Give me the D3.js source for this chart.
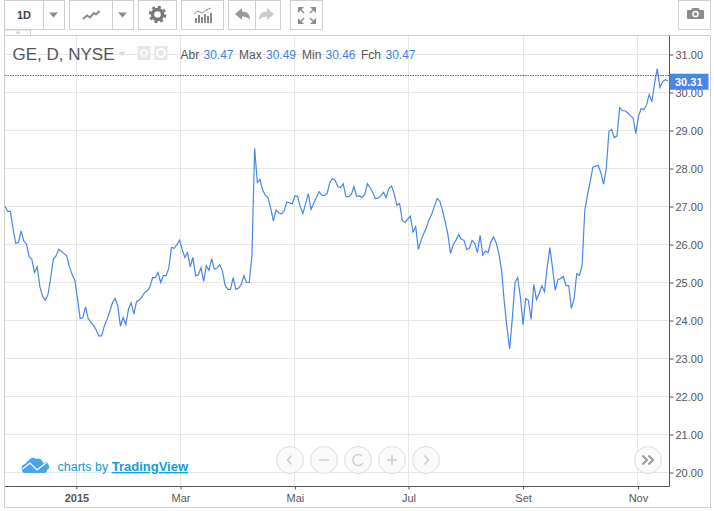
<!DOCTYPE html>
<html>
<head>
<meta charset="utf-8">
<style>
  html, body { margin: 0; padding: 0; background: #fff; }
  svg { display: block; font-family: "Liberation Sans", Arial, sans-serif; }
</style>
<script src="https://cdnjs.cloudflare.com/ajax/libs/d3/7.8.5/d3.min.js"></script>
</head>
<body>
<script>
'use strict';

// daily close, one value per bar
var closes = [
  27.01, 26.87, 26.87, 26.42, 26.03, 26.05, 26.36, 26.09, 26.01, 25.68,
  25.61, 25.26, 25.41, 24.89, 24.64, 24.53, 24.68, 25.11, 25.61, 25.70,
  25.87, 25.82, 25.76, 25.70, 25.41, 25.21, 25.06, 24.58, 24.05, 24.07,
  24.36, 24.05, 23.96, 23.87, 23.75, 23.59, 23.60, 23.85, 24.03, 24.23,
  24.46, 24.58, 24.39, 23.85, 24.08, 23.89, 24.30, 24.47, 24.17, 24.50,
  24.53, 24.62, 24.73, 24.78, 24.89, 25.13, 25.13, 25.26, 25.00, 25.18,
  25.18, 25.37, 25.92, 25.90, 25.99, 26.11, 25.87, 25.66, 25.79, 25.41,
  25.66, 25.18, 25.20, 25.39, 25.03, 25.44, 25.32, 25.63, 25.35, 25.38,
  25.47, 25.30, 24.93, 24.82, 24.82, 25.13, 24.82, 24.85, 24.95, 25.18,
  25.00, 25.00, 25.72, 28.53, 27.63, 27.71, 27.43, 27.30, 27.23, 26.95,
  26.62, 26.91, 26.83, 26.81, 26.89, 27.12, 27.10, 27.07, 27.28, 27.27,
  26.99, 26.82, 27.08, 27.34, 26.92, 27.08, 27.24, 27.39, 27.30, 27.29,
  27.34, 27.63, 27.73, 27.69, 27.52, 27.50, 27.60, 27.26, 27.26, 27.31,
  27.52, 27.27, 27.28, 27.24, 27.31, 27.60, 27.50, 27.37, 27.21, 27.22,
  27.28, 27.37, 27.24, 27.47, 27.54, 27.34, 27.03, 27.08, 26.64, 26.58,
  26.67, 26.75, 26.33, 26.47, 25.87, 26.11, 26.29, 26.44, 26.66, 26.80,
  27.01, 27.21, 27.14, 26.89, 26.60, 26.26, 25.76, 26.00, 26.11, 26.26,
  26.14, 26.11, 25.87, 25.90, 26.11, 26.03, 25.79, 26.24, 25.72, 25.83,
  25.79, 26.07, 26.20, 26.04, 25.76, 25.32, 24.49, 23.83, 23.25, 24.05,
  25.00, 25.13, 24.62, 23.89, 24.58, 24.53, 24.03, 24.95, 24.55, 24.71,
  24.92, 24.76, 25.41, 25.92, 25.37, 24.80, 25.08, 25.10, 25.16, 24.92,
  24.92, 24.32, 24.56, 25.23, 25.19, 25.45, 26.90, 27.30, 27.65, 28.03,
  28.07, 28.08, 27.89, 27.58, 28.00, 28.98, 29.03, 28.81, 28.86, 29.60,
  29.52, 29.52, 29.46, 29.39, 29.33, 28.92, 29.38, 29.57, 29.55, 29.67,
  29.95, 29.76, 30.24, 30.63, 30.13, 30.28, 30.34, 30.31
];

var priceTicks = [20, 21, 22, 23, 24, 25, 26, 27, 28, 29, 30, 31];
var monthLabels = ['2015', 'Mar', 'Mai', 'Jul', 'Set', 'Nov'];
var monthBars = [26.6, 65.4, 108, 150.3, 193, 235.8];
var legendNames = ['Abr', 'Max', 'Min', 'Fch'];
var legendValues = [30.47, 30.49, 30.46, 30.47];
var lastPrice = 30.31;
var dashedPrice = 30.45;

var chartWidth = 714,
  chartHeight = 511,
  plotLeft = 5,
  plotRight = 669.5,
  plotTop = 35.5,
  plotBottom = 486.5;

var grey = '#555',
  boxLine = '#cfcfcf',
  iconGrey = '#8a8a8a',
  blue = '#4a86e8';

var svg = d3.select('body').append('svg')
  .attr('width', chartWidth)
  .attr('height', chartHeight);

var x = d3.scaleLinear().domain([0, closes.length - 1]).range([5, 668]);
var y = d3.scaleLinear().domain([20, 31]).range([472.5, 54.5]);

// grid
svg.append('g').selectAll('line').data(priceTicks).enter().append('line')
  .attr('x1', plotLeft).attr('x2', plotRight)
  .attr('y1', function(d) { return Math.round(y(d) - 0.5) + 0.5; })
  .attr('y2', function(d) { return Math.round(y(d) - 0.5) + 0.5; })
  .attr('stroke', '#e6e6e6');

svg.append('g').selectAll('line').data(monthBars).enter().append('line')
  .attr('x1', function(d) { return Math.round(x(d) - 0.5) + 0.5; })
  .attr('x2', function(d) { return Math.round(x(d) - 0.5) + 0.5; })
  .attr('y1', plotTop).attr('y2', plotBottom)
  .attr('stroke', '#e6e6e6');

// price line
var priceLine = d3.line()
  .x(function(d, i) { return x(i); })
  .y(function(d) { return y(d); });

svg.append('path')
  .attr('d', priceLine(closes))
  .attr('fill', 'none')
  .attr('stroke', blue)
  .attr('stroke-width', 1.2);

// last price dashed line
svg.append('line')
  .attr('x1', plotLeft).attr('x2', plotRight)
  .attr('y1', Math.round(y(dashedPrice)) + 0.5)
  .attr('y2', Math.round(y(dashedPrice)) + 0.5)
  .attr('stroke', '#2f6fd0')
  .attr('stroke-dasharray', '1.5,1');

// axes
var rightAxis = d3.axisRight(y)
  .tickValues(priceTicks)
  .tickSize(4)
  .tickPadding(2)
  .tickFormat(d3.format('.2f'));

var rightG = svg.append('g')
  .attr('transform', 'translate(' + plotRight + ',0)')
  .call(rightAxis);

rightG.select('.domain').attr('d', 'M0,' + plotTop + 'V' + plotBottom).attr('stroke', grey);
rightG.selectAll('line').attr('stroke', grey);
rightG.selectAll('text')
  .attr('font-family', '"Liberation Sans", Arial, sans-serif')
  .attr('font-size', 11)
  .attr('fill', grey);

var bottomAxis = d3.axisBottom(x)
  .tickValues(monthBars)
  .tickSize(3)
  .tickPadding(5)
  .tickFormat(function(d, i) { return monthLabels[i]; });

var bottomG = svg.append('g')
  .attr('transform', 'translate(0,' + plotBottom + ')')
  .call(bottomAxis);

bottomG.select('.domain').attr('d', 'M' + plotLeft + ',0H' + plotRight).attr('stroke', grey);
bottomG.selectAll('line').attr('stroke', grey);
bottomG.selectAll('text')
  .attr('font-family', '"Liberation Sans", Arial, sans-serif')
  .attr('font-size', 11)
  .attr('font-weight', function(d, i) { return i === 0 ? 'bold' : 'normal'; })
  .attr('fill', grey);

// last price label
svg.append('rect')
  .attr('x', plotRight).attr('y', y(lastPrice) - 7)
  .attr('width', 39).attr('height', 16)
  .attr('fill', blue);

svg.append('text')
  .attr('x', 675).attr('y', y(lastPrice) + 5)
  .attr('font-size', 11).attr('font-weight', 'bold')
  .attr('fill', '#fff')
  .text(d3.format('.2f')(lastPrice));

// frame
svg.append('path')
  .attr('d', 'M4.5,30V507.5H710.5V35.5H4.5M4.5,30H30.5V35.5')
  .attr('fill', 'none')
  .attr('stroke', boxLine);

svg.append('path').attr('d', 'M15,33.5L18,31L21,33.5Z').attr('fill', '#ccc');

// title + legend
svg.append('text')
  .attr('x', 12.5).attr('y', 59.5)
  .attr('font-size', 17).attr('fill', grey)
  .text('GE, D, NYSE');

svg.append('path').attr('d', 'M118,52H126L122,56Z').attr('fill', '#ddd');

[137.5, 154.5].forEach(function(px, i) {
  svg.append('rect')
    .attr('x', px).attr('y', 46)
    .attr('width', 13).attr('height', 14)
    .attr('fill', '#e6e6e6');
  svg.append('circle')
    .attr('cx', px + 6.5).attr('cy', 53)
    .attr('r', i === 0 ? 3 : 4)
    .attr('fill', 'none')
    .attr('stroke', '#fff')
    .attr('stroke-width', i === 0 ? 1.4 : 2);
});

var legendNameX = [180.5, 239, 302, 361],
  legendValueX = [203.5, 266, 325.5, 385.5];

legendNames.forEach(function(name, i) {
  svg.append('text')
    .attr('x', legendNameX[i]).attr('y', 59)
    .attr('font-size', 12).attr('fill', grey)
    .text(name);
  svg.append('text')
    .attr('x', legendValueX[i]).attr('y', 59)
    .attr('font-size', 12).attr('fill', '#3d7fe6')
    .text(d3.format('.2f')(legendValues[i]));
});

// toolbar boxes
var boxes = [
  [4.5, 60], [69.5, 64], [138.5, 38], [181.5, 42], [228.5, 52], [290.5, 32], [678.5, 32]
];

boxes.forEach(function(b) {
  svg.append('rect')
    .attr('x', b[0]).attr('y', 0.5)
    .attr('width', b[1]).attr('height', 29)
    .attr('fill', '#fff')
    .attr('stroke', boxLine);
});

[43.5, 112.5, 255.5].forEach(function(px) {
  svg.append('line')
    .attr('x1', px).attr('x2', px)
    .attr('y1', 0.5).attr('y2', 29.5)
    .attr('stroke', boxLine);
});

svg.append('text')
  .attr('x', 24).attr('y', 18.5)
  .attr('text-anchor', 'middle')
  .attr('font-size', 11).attr('font-weight', 'bold')
  .attr('fill', '#444')
  .text('1D');

[[49, 12.5], [118, 12.5]].forEach(function(p) {
  svg.append('path')
    .attr('d', 'M' + p[0] + ',' + p[1] + 'h9l-4.5,5z')
    .attr('fill', iconGrey);
});

// line icon
svg.append('path')
  .attr('d', 'M83,19L87,15.5L90,17.5L94,13L96,14.5L99.5,11')
  .attr('fill', 'none').attr('stroke', iconGrey).attr('stroke-width', 2);

// gear icon
svg.append('circle')
  .attr('cx', 157.5).attr('cy', 14.5).attr('r', 5)
  .attr('fill', 'none').attr('stroke', '#777').attr('stroke-width', 3.4);
svg.append('circle')
  .attr('cx', 157.5).attr('cy', 14.5).attr('r', 7.6)
  .attr('fill', 'none').attr('stroke', '#777').attr('stroke-width', 2.4)
  .attr('stroke-dasharray', '3,3');

// indicators icon
[195, 198, 201, 204, 207, 210].forEach(function(px, i) {
  var h = [5, 8, 6, 9, 7, 10][i];
  svg.append('rect')
    .attr('x', px).attr('y', 23 - h)
    .attr('width', 2).attr('height', h)
    .attr('fill', iconGrey);
});
svg.append('path')
  .attr('d', 'M194,14L198,11L202,13L206,10L211,8')
  .attr('fill', 'none').attr('stroke', iconGrey);

// undo, redo
svg.append('path')
  .attr('d', 'M235,14L242,8V11.5C248,11.5 250,15 250,20C248,17 245,16.5 242,16.5V20Z')
  .attr('fill', '#999');
svg.append('path')
  .attr('d', 'M274,14L267,8V11.5C261,11.5 259,15 259,20C261,17 264,16.5 267,16.5V20Z')
  .attr('fill', '#ccc');

// fullscreen
['M298,7h6l-6,6z', 'M316,7h-6l6,6z', 'M298,24h6l-6,-6z', 'M316,24h-6l6,-6z'].forEach(function(d) {
  svg.append('path').attr('d', d).attr('fill', iconGrey);
});
svg.append('path')
  .attr('d', 'M301,10L304,13M313,10L310,13M301,21L304,18M313,21L310,18')
  .attr('stroke', iconGrey).attr('stroke-width', 1.5);

// camera
svg.append('path')
  .attr('d', 'M688,10h3l1.5,-2h6l1.5,2h3a1,1 0 0 1 1,1v7a1,1 0 0 1 -1,1h-15a1,1 0 0 1 -1,-1v-7a1,1 0 0 1 1,-1z')
  .attr('fill', iconGrey);
svg.append('circle')
  .attr('cx', 695.5).attr('cy', 14).attr('r', 2.6)
  .attr('fill', iconGrey).attr('stroke', '#fff').attr('stroke-width', 1.5);

// tradingview logo
svg.append('path')
  .attr('d', 'M22,470a4,4 0 0 1 3,-6l5,-5a4,4 0 0 1 6,0a5,5 0 0 1 7,4a4,4 0 0 1 4,7a3,3 0 0 1 -2,3h-21a3,3 0 0 1 -2,-3z')
  .attr('fill', '#4aa5e8');
svg.append('path')
  .attr('d', 'M22.5,469L30,463L37,470L46,463')
  .attr('fill', 'none').attr('stroke', '#fff').attr('stroke-width', 1.3);

var logoText = svg.append('text')
  .attr('x', 57.5).attr('y', 471)
  .attr('font-size', 12.5).attr('fill', '#0b9fdc');
logoText.append('tspan').text('charts by ');
logoText.append('tspan')
  .attr('font-weight', 'bold')
  .attr('font-size', 13)
  .attr('text-decoration', 'underline')
  .text('TradingView');

// round nav buttons
var navX = [290, 324, 358, 392, 426, 648];
svg.append('g').selectAll('circle').data(navX).enter().append('circle')
  .attr('cx', function(d) { return d; })
  .attr('cy', 460)
  .attr('r', 13.5)
  .attr('fill', '#fafafa')
  .attr('stroke', '#ddd');

var navIcons = [
  'M291.5,455.5L287.5,460L291.5,464.5',
  'M319,460H329',
  'M362,456A5.5,5.5 0 1 0 363,463',
  'M387,460H397M392,455V465',
  'M424.5,455.5L428.5,460L424.5,464.5',
  'M642.5,455.5L647,460L642.5,464.5M648.5,455.5L653,460L648.5,464.5'
];

navIcons.forEach(function(d, i) {
  svg.append('path')
    .attr('d', d)
    .attr('fill', 'none')
    .attr('stroke', i === 5 ? '#999' : '#ccc')
    .attr('stroke-width', i === 5 ? 2 : 1.5);
});
</script>
</body>
</html>
